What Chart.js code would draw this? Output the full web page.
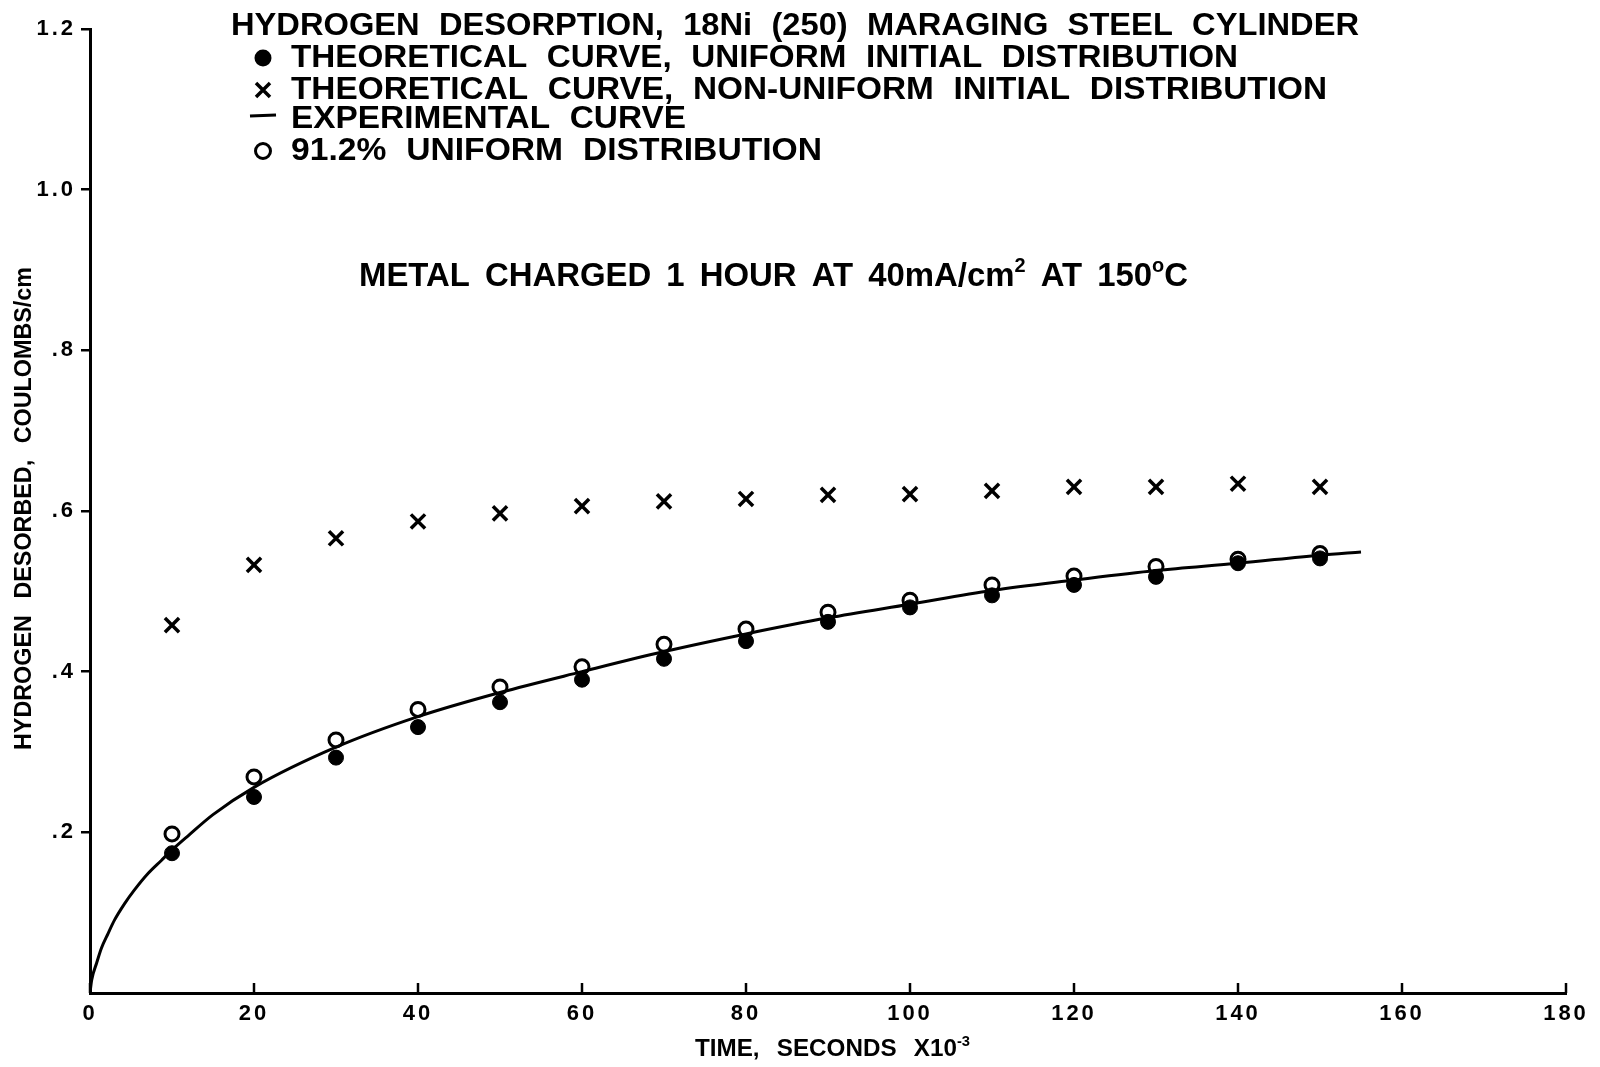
<!DOCTYPE html>
<html>
<head>
<meta charset="utf-8">
<script src="https://cdn.jsdelivr.net/npm/chart.js@4.4.0/dist/chart.umd.min.js"></script>
<style>
  html, body { margin: 0; padding: 0; background: #fff; }
  canvas { display: block; }
</style>
</head>
<body>
<canvas id="grafico" width="1600" height="1067"></canvas>
<script>
// valores (tempo em segundos x10^-3)
const tempos = [10, 20, 30, 40, 50, 60, 70, 80, 90, 100, 110, 120, 130, 140, 150];
const uniforme = [0.174, 0.244, 0.293, 0.331, 0.362, 0.390, 0.416, 0.438, 0.462, 0.480, 0.495, 0.508, 0.518, 0.535, 0.541];
const naoUniforme = [0.458, 0.533, 0.566, 0.587, 0.597, 0.606, 0.612, 0.615, 0.620, 0.621, 0.625, 0.630, 0.630, 0.634, 0.630];
const uniforme912 = [0.198, 0.269, 0.315, 0.353, 0.381, 0.406, 0.434, 0.453, 0.474, 0.489, 0.508, 0.519, 0.531, 0.540, 0.547];

// curva experimental
const curvaTempo = [0, 0.2, 0.8, 1.4, 2.2, 3.0, 4.2, 5.4, 7.1, 8.7, 10, 12, 15, 20, 30, 40, 50, 60, 70, 80, 90, 100, 110, 120, 130, 140, 150, 155];
const curvaValor = [0, 0.016, 0.037, 0.056, 0.074, 0.091, 0.111, 0.128, 0.149, 0.165, 0.178, 0.196, 0.222, 0.256, 0.306, 0.344, 0.374, 0.400, 0.425, 0.447, 0.467, 0.484, 0.501, 0.514, 0.526, 0.535, 0.545, 0.549];

const xTickLabels = ['0', '20', '40', '60', '80', '100', '120', '140', '160', '180'];
const yTickLabels = ['', '.2', '.4', '.6', '.8', '1.0', '1.2'];

const titulo = 'HYDROGEN DESORPTION, 18Ni (250) MARAGING STEEL CYLINDER';
const legendaTextos = [
  'THEORETICAL CURVE, UNIFORM INITIAL DISTRIBUTION',
  'THEORETICAL CURVE, NON-UNIFORM INITIAL DISTRIBUTION',
  'EXPERIMENTAL CURVE',
  '91.2% UNIFORM DISTRIBUTION'
];
const nota = [['METAL CHARGED 1 HOUR AT 40mA/cm'], ['2', true], [' AT 150'], ['o', true], ['C']];
const tituloX = [['TIME, SECONDS X10'], ['-3', true]];
const tituloY = [['HYDROGEN DESORBED, COULOMBS/cm']];

const FONTE = '"Liberation Sans", Arial, sans-serif';

function pares(xs, ys) {
  return xs.map((x, i) => ({ x: x, y: ys[i] }));
}

// escreve texto (com expoentes) esticado/comprimido para a largura dada
function textoAjustado(ctx, partes, esq, y, largura, tam, espaco) {
  ctx.save();
  ctx.wordSpacing = (espaco || 8) + 'px';
  ctx.textBaseline = 'middle';
  ctx.fillStyle = '#000';
  const fonte = sup => `bold ${sup ? Math.round(tam * 0.62) : tam}px ${FONTE}`;
  let total = 0;
  partes.forEach(p => {
    ctx.font = fonte(p[1]);
    total += ctx.measureText(p[0]).width;
  });
  ctx.translate(esq, y);
  ctx.scale(largura / total, 1);
  let x = 0;
  partes.forEach(p => {
    ctx.font = fonte(p[1]);
    ctx.fillText(p[0], x, p[1] ? -tam * 0.33 : 0);
    x += ctx.measureText(p[0]).width;
  });
  ctx.restore();
}

const textos = {
  id: 'textos',
  beforeDraw(chart) {
    chart.ctx.letterSpacing = '3px';
  },
  afterDraw(chart) {
    const ctx = chart.ctx;
    ctx.letterSpacing = '0px';
    const xs = chart.scales.x;
    const base = chart.chartArea.bottom;

    // marcas do eixo x viradas para dentro
    ctx.save();
    ctx.strokeStyle = '#000';
    ctx.lineWidth = 2.5;
    xs.ticks.forEach(t => {
      const px = xs.getPixelForValue(t.value);
      ctx.beginPath();
      ctx.moveTo(px, base);
      ctx.lineTo(px, base - 10);
      ctx.stroke();
    });
    ctx.restore();

    // titulo e legenda
    textoAjustado(ctx, [[titulo]], 231, 26, 1128, 32, 10);
    const linhasY = [58, 90, 119, 151];
    const larguras = [947, 1036, 395, 531];
    legendaTextos.forEach((t, i) => {
      textoAjustado(ctx, [[t]], 291, linhasY[i], larguras[i], 32, 10);
    });

    const mx = 263;
    ctx.save();
    ctx.fillStyle = '#000';
    ctx.strokeStyle = '#000';
    ctx.beginPath();
    ctx.arc(mx, linhasY[0], 8.5, 0, Math.PI * 2);
    ctx.fill();
    ctx.lineWidth = 3.5;
    ctx.beginPath();
    ctx.moveTo(mx - 7, linhasY[1] - 7);
    ctx.lineTo(mx + 7, linhasY[1] + 7);
    ctx.moveTo(mx + 7, linhasY[1] - 7);
    ctx.lineTo(mx - 7, linhasY[1] + 7);
    ctx.stroke();
    ctx.lineWidth = 3;
    ctx.beginPath();
    ctx.moveTo(mx - 13, linhasY[2] - 3);
    ctx.lineTo(mx + 13, linhasY[2] - 4);
    ctx.stroke();
    ctx.beginPath();
    ctx.arc(mx, linhasY[3], 7.5, 0, Math.PI * 2);
    ctx.stroke();
    ctx.restore();

    // nota no meio do grafico
    textoAjustado(ctx, nota, 359, 277, 829, 33, 6);

    // titulos dos eixos
    textoAjustado(ctx, tituloX, 695, 1050, 275, 23, 10);
    ctx.save();
    ctx.translate(25, 509);
    ctx.rotate(-Math.PI / 2);
    textoAjustado(ctx, tituloY, -241, 0, 483, 23, 10);
    ctx.restore();
  }
};

new Chart(document.getElementById('grafico'), {
  type: 'scatter',
  data: {
    datasets: [
      {
        label: 'EXPERIMENTAL CURVE',
        data: pares(curvaTempo, curvaValor),
        showLine: true,
        borderColor: '#000',
        borderWidth: 3,
        pointRadius: 0,
        tension: 0.4,
        cubicInterpolationMode: 'monotone'
      },
      {
        label: 'THEORETICAL CURVE, UNIFORM INITIAL DISTRIBUTION',
        data: pares(tempos, uniforme),
        pointStyle: 'circle',
        pointRadius: 7.5,
        backgroundColor: '#000',
        borderColor: '#000',
        borderWidth: 1
      },
      {
        label: '91.2% UNIFORM DISTRIBUTION',
        data: pares(tempos, uniforme912),
        pointStyle: 'circle',
        pointRadius: 7,
        backgroundColor: 'rgba(0,0,0,0)',
        borderColor: '#000',
        borderWidth: 3
      },
      {
        label: 'THEORETICAL CURVE, NON-UNIFORM INITIAL DISTRIBUTION',
        data: pares(tempos, naoUniforme),
        pointStyle: 'crossRot',
        pointRadius: 10,
        borderColor: '#000',
        borderWidth: 3.5
      }
    ]
  },
  options: {
    responsive: false,
    animation: false,
    devicePixelRatio: 1,
    layout: { padding: { left: 0, top: 29, right: 34, bottom: 0 } },
    plugins: {
      legend: { display: false },
      tooltip: { enabled: false },
      title: { display: false }
    },
    elements: { point: { hoverRadius: 0 } },
    scales: {
      x: {
        type: 'linear',
        min: 0,
        max: 180,
        ticks: {
          stepSize: 20,
          color: '#000',
          padding: 0,
          font: { family: FONTE, size: 22, weight: 'bold' },
          callback: (v, i) => xTickLabels[i]
        },
        grid: { display: false },
        border: { display: true, color: '#000', width: 3 },
        afterFit: s => { s.height = 74; }
      },
      y: {
        type: 'linear',
        min: 0,
        max: 1.2,
        ticks: {
          stepSize: 0.2,
          color: '#000',
          padding: 5,
          font: { family: FONTE, size: 22, weight: 'bold' },
          callback: (v, i) => yTickLabels[i]
        },
        grid: {
          drawOnChartArea: false,
          drawTicks: true,
          tickLength: 9,
          lineWidth: 2.5,
          color: c => c.index === 0 ? 'rgba(0,0,0,0)' : '#000'
        },
        border: { display: true, color: '#000', width: 3 },
        afterFit: s => { s.width = 90; }
      }
    }
  },
  plugins: [textos]
});
</script>
</body>
</html>
